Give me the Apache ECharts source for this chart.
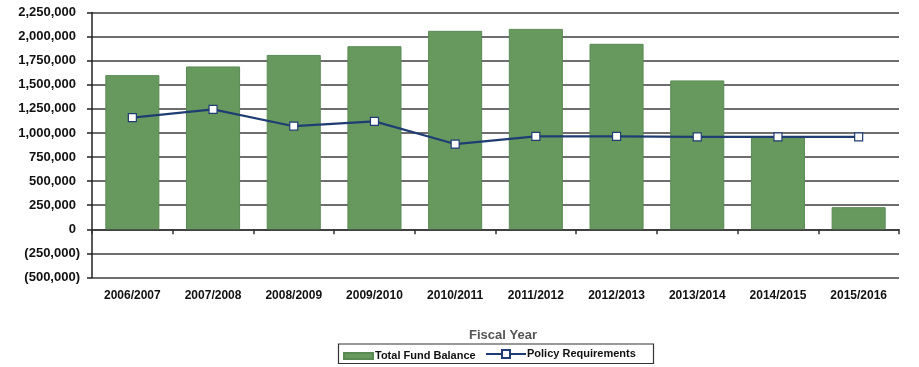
<!DOCTYPE html>
<html>
<head>
<meta charset="utf-8">
<script src="https://cdn.jsdelivr.net/npm/echarts@6/dist/echarts.min.js"></script>
<style>
  html, body { margin: 0; padding: 0; background: #fff; }
  #chart { width: 919px; height: 367px; }
</style>
</head>
<body>
<div id="chart"></div>
<script>
// Fiscal years on the category axis
const fiscalYears = ['2006/2007', '2007/2008', '2008/2009', '2009/2010', '2010/2011',
                     '2011/2012', '2012/2013', '2013/2014', '2014/2015', '2015/2016'];
// Total fund balance per year
const totalFundBalance = [1600000, 1690000, 1810000, 1900000, 2060000,
                          2080000, 1925000, 1545000, 960000, 230000];
// Reserve required by policy per year
const policyRequirements = [1160000, 1245000, 1070000, 1120000, 885000,
                            965000, 965000, 960000, 960000, 960000];

const FONT = '"Liberation Sans", Arial, sans-serif';

// Accounting style: negatives in parentheses, positives padded to line up with them
function fmtAmount(v) {
  const s = Math.abs(v).toLocaleString('en-US');
  return v < 0 ? '{n|(' + s + ')}' : '{p|' + s + '}';
}

const labelText = { fontFamily: FONT, fontWeight: 'bold', fontSize: 13, color: '#111' };

const chart = echarts.init(document.getElementById('chart'), null, { renderer: 'canvas' });

chart.setOption({
  animation: false,
  backgroundColor: '#fff',
  grid: { left: 92, right: 20, top: 12.5, bottom: 89.5, containLabel: false },
  xAxis: [
    {
      type: 'category',
      data: fiscalYears,
      position: 'bottom',
      axisLine: { show: false, onZero: false },
      axisTick: { show: false },
      axisLabel: { fontFamily: FONT, fontWeight: 'bold', fontSize: 12, color: '#111', margin: 12 },
      name: 'Fiscal Year',
      nameLocation: 'middle',
      nameGap: 51,
      nameTextStyle: { fontFamily: FONT, fontWeight: 'bold', fontSize: 13, color: '#555', padding: [0, 0, 0, 15] }
    },
    {
      type: 'category',
      data: fiscalYears,
      position: 'bottom',
      axisLine: { show: true, onZero: true, lineStyle: { color: '#333', width: 1.5 } },
      axisTick: { show: true, length: 5, lineStyle: { color: '#333', width: 1.5 } },
      axisLabel: { show: false }
    }
  ],
  yAxis: {
    type: 'value',
    min: -500000,
    max: 2250000,
    interval: 250000,
    axisLine: { show: true, lineStyle: { color: '#222', width: 1.5 } },
    axisTick: { show: true, length: 5, lineStyle: { color: '#222', width: 1.5 } },
    axisLabel: {
      margin: 12,
      formatter: fmtAmount,
      rich: {
        p: Object.assign({ padding: [0, 4, 0, 0] }, labelText),
        n: Object.assign({}, labelText)
      }
    },
    splitLine: { show: true, lineStyle: { color: '#3e3e3e', width: 1.5 } }
  },
  legend: [
    {
      data: [{ name: 'Total Fund Balance', icon: 'rect' }],
      left: 343, top: 350.5,
      itemWidth: 29, itemHeight: 6, itemGap: 0,
      padding: 0,
      textStyle: { fontFamily: FONT, fontWeight: 'bold', fontSize: 11, color: '#111', padding: [0, 0, 0, -3] }
    },
    {
      data: ['Policy Requirements'],
      left: 485, top: 348.5,
      itemWidth: 40, itemHeight: 10, itemGap: 0,
      padding: 0,
      textStyle: { fontFamily: FONT, fontWeight: 'bold', fontSize: 11, color: '#111', padding: [0, 0, 0, -4] }
    }
  ],
  graphic: [
    {
      type: 'rect',
      left: 336, top: 341.5,
      shape: { width: 315, height: 19.5 },
      style: { fill: 'none', stroke: '#333', lineWidth: 1.2 },
      silent: true
    }
  ],
  series: [
    {
      name: 'Total Fund Balance',
      type: 'bar',
      xAxisIndex: 0,
      data: totalFundBalance,
      barWidth: '67%',
      itemStyle: { color: '#67995f', borderColor: '#5a8a54', borderWidth: 1 }
    },
    {
      name: 'Policy Requirements',
      type: 'line',
      xAxisIndex: 0,
      data: policyRequirements,
      symbol: 'rect',
      symbolSize: 8,
      lineStyle: { color: '#1f3d72', width: 2.2 },
      itemStyle: { color: '#fff', borderColor: '#1f3d72', borderWidth: 1.2 },
      z: 5
    }
  ]
});
</script>
</body>
</html>
